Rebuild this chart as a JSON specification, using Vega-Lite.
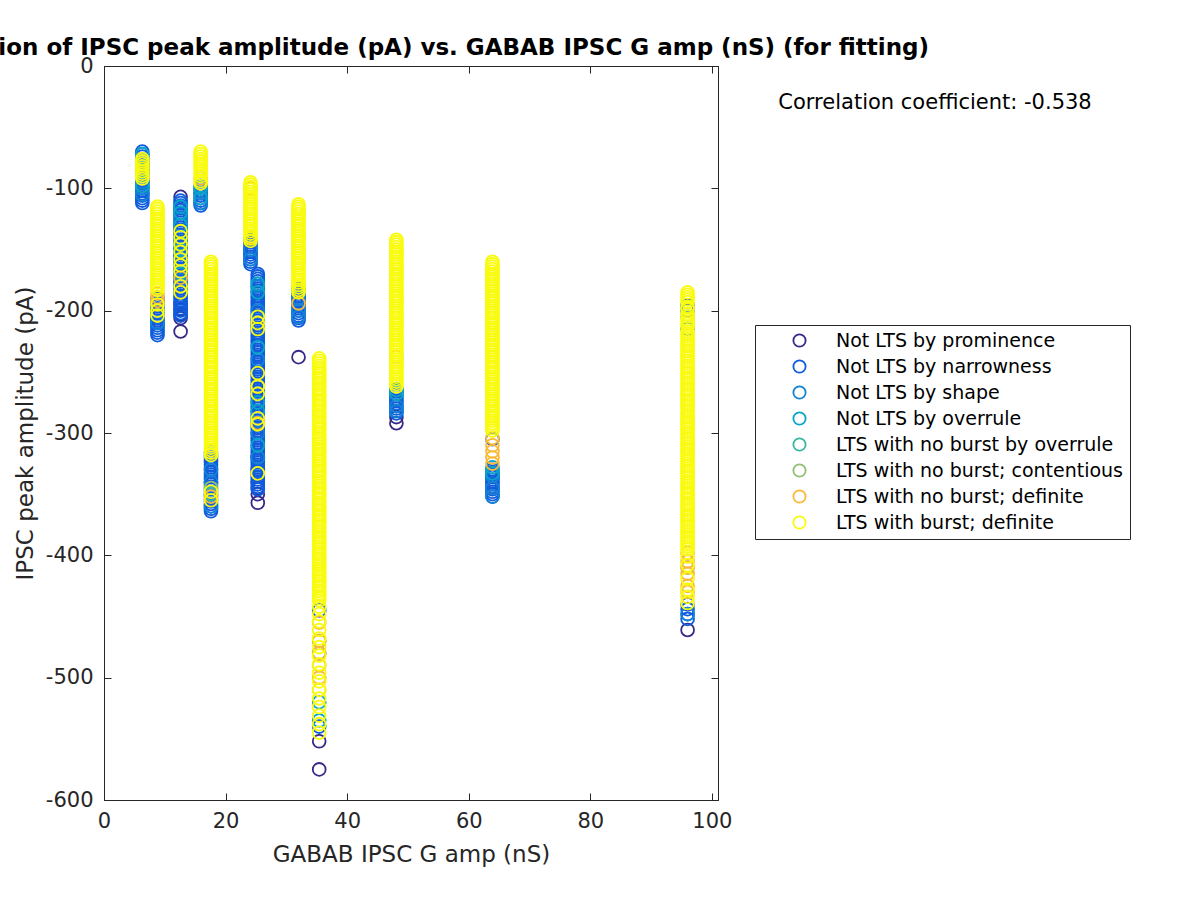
{
  "$schema": "https://vega.github.io/schema/vega-lite/v6.json",
  "width": 614,
  "height": 734,
  "autosize": {"type": "none"},
  "padding": {"left": 104, "top": 66, "right": 482, "bottom": 100},
  "background": "white",
  "title": {"text": "Correlation of IPSC peak amplitude (pA) vs. GABAB IPSC G amp (nS) (for fitting)", "font": "DejaVu Sans", "fontSize": 23, "fontWeight": "bold", "color": "black", "anchor": "middle", "offset": 9, "dy": 14},
  "config": {
    "view": {"stroke": "#262626", "strokeWidth": 1},
    "axis": {"labelFont": "DejaVu Sans", "titleFont": "DejaVu Sans", "labelColor": "#262626", "titleColor": "#262626", "domainColor": "#262626", "tickColor": "#262626", "labelFontSize": 21, "titleFontSize": 23, "titleFontWeight": "normal", "grid": false, "labelFlush": false}
  },
  "datasets": {
    "types": [
      {"k": 1, "name": "Not LTS by prominence"},
      {"k": 2, "name": "Not LTS by narrowness"},
      {"k": 3, "name": "Not LTS by shape"},
      {"k": 4, "name": "Not LTS by overrule"},
      {"k": 5, "name": "LTS with no burst by overrule"},
      {"k": 6, "name": "LTS with no burst; contentious"},
      {"k": 7, "name": "LTS with no burst; definite"},
      {"k": 8, "name": "LTS with burst; definite"}
    ],
    "pts": [
{"x":12.6,"y":-107,"k":1},{"x":12.6,"y":-195,"k":1},{"x":12.6,"y":-199,"k":1},{"x":12.6,"y":-203,"k":1},{"x":12.6,"y":-206,"k":1},{"x":12.6,"y":-217,"k":1},
{"x":25.3,"y":-320,"k":1},{"x":25.3,"y":-330,"k":1},{"x":25.3,"y":-340,"k":1},{"x":25.3,"y":-345,"k":1},{"x":25.3,"y":-350,"k":1},{"x":25.3,"y":-357,"k":1},
{"x":32.0,"y":-238,"k":1},{"x":35.4,"y":-552,"k":1},{"x":35.4,"y":-575,"k":1},{"x":48.1,"y":-287,"k":1},{"x":48.1,"y":-292,"k":1},{"x":96.0,"y":-461,"k":1},

{"x":6.3,"y":-70,"k":2},{"x":6.3,"y":-72,"k":2},{"x":6.3,"y":-74,"k":2},{"x":6.3,"y":-76,"k":2},{"x":6.3,"y":-78,"k":2},{"x":6.3,"y":-80,"k":2},{"x":6.3,"y":-82,"k":2},{"x":6.3,"y":-84,"k":2},{"x":6.3,"y":-86,"k":2},{"x":6.3,"y":-88,"k":2},{"x":6.3,"y":-90,"k":2},{"x":6.3,"y":-92,"k":2},{"x":6.3,"y":-94,"k":2},{"x":6.3,"y":-96,"k":2},{"x":6.3,"y":-98,"k":2},{"x":6.3,"y":-100,"k":2},{"x":6.3,"y":-102,"k":2},{"x":6.3,"y":-104,"k":2},{"x":6.3,"y":-106,"k":2},{"x":6.3,"y":-108,"k":2},{"x":6.3,"y":-110,"k":2},{"x":6.3,"y":-112,"k":2},
{"x":8.8,"y":-190,"k":2},{"x":8.8,"y":-192,"k":2},{"x":8.8,"y":-194,"k":2},{"x":8.8,"y":-196,"k":2},{"x":8.8,"y":-198,"k":2},{"x":8.8,"y":-200,"k":2},{"x":8.8,"y":-202,"k":2},{"x":8.8,"y":-204,"k":2},{"x":8.8,"y":-206,"k":2},{"x":8.8,"y":-208,"k":2},{"x":8.8,"y":-210,"k":2},{"x":8.8,"y":-212,"k":2},{"x":8.8,"y":-214,"k":2},{"x":8.8,"y":-216,"k":2},{"x":8.8,"y":-218,"k":2},{"x":8.8,"y":-220,"k":2},
{"x":12.6,"y":-110,"k":2},{"x":12.6,"y":-112,"k":2},{"x":12.6,"y":-114,"k":2},{"x":12.6,"y":-116,"k":2},{"x":12.6,"y":-118,"k":2},{"x":12.6,"y":-120,"k":2},{"x":12.6,"y":-122,"k":2},{"x":12.6,"y":-124,"k":2},{"x":12.6,"y":-126,"k":2},{"x":12.6,"y":-128,"k":2},{"x":12.6,"y":-130,"k":2},{"x":12.6,"y":-132,"k":2},{"x":12.6,"y":-134,"k":2},{"x":12.6,"y":-136,"k":2},{"x":12.6,"y":-138,"k":2},{"x":12.6,"y":-140,"k":2},{"x":12.6,"y":-142,"k":2},{"x":12.6,"y":-144,"k":2},{"x":12.6,"y":-146,"k":2},{"x":12.6,"y":-148,"k":2},{"x":12.6,"y":-150,"k":2},{"x":12.6,"y":-152,"k":2},{"x":12.6,"y":-154,"k":2},{"x":12.6,"y":-156,"k":2},{"x":12.6,"y":-158,"k":2},{"x":12.6,"y":-160,"k":2},{"x":12.6,"y":-162,"k":2},{"x":12.6,"y":-164,"k":2},{"x":12.6,"y":-166,"k":2},{"x":12.6,"y":-168,"k":2},{"x":12.6,"y":-170,"k":2},{"x":12.6,"y":-172,"k":2},{"x":12.6,"y":-174,"k":2},{"x":12.6,"y":-176,"k":2},{"x":12.6,"y":-178,"k":2},{"x":12.6,"y":-180,"k":2},{"x":12.6,"y":-182,"k":2},{"x":12.6,"y":-184,"k":2},{"x":12.6,"y":-186,"k":2},{"x":12.6,"y":-188,"k":2},{"x":12.6,"y":-190,"k":2},{"x":12.6,"y":-192,"k":2},{"x":12.6,"y":-194,"k":2},{"x":12.6,"y":-196,"k":2},{"x":12.6,"y":-198,"k":2},{"x":12.6,"y":-200,"k":2},{"x":12.6,"y":-202,"k":2},{"x":12.6,"y":-204,"k":2},
{"x":15.9,"y":-100,"k":2},{"x":15.9,"y":-102,"k":2},{"x":15.9,"y":-104,"k":2},{"x":15.9,"y":-106,"k":2},{"x":15.9,"y":-108,"k":2},{"x":15.9,"y":-110,"k":2},{"x":15.9,"y":-112,"k":2},{"x":15.9,"y":-114,"k":2},
{"x":17.6,"y":-316,"k":2},{"x":17.6,"y":-318,"k":2},{"x":17.6,"y":-320,"k":2},{"x":17.6,"y":-322,"k":2},{"x":17.6,"y":-324,"k":2},{"x":17.6,"y":-326,"k":2},{"x":17.6,"y":-328,"k":2},{"x":17.6,"y":-330,"k":2},{"x":17.6,"y":-332,"k":2},{"x":17.6,"y":-334,"k":2},{"x":17.6,"y":-336,"k":2},{"x":17.6,"y":-338,"k":2},{"x":17.6,"y":-340,"k":2},{"x":17.6,"y":-342,"k":2},{"x":17.6,"y":-344,"k":2},{"x":17.6,"y":-346,"k":2},{"x":17.6,"y":-348,"k":2},{"x":17.6,"y":-350,"k":2},{"x":17.6,"y":-352,"k":2},{"x":17.6,"y":-354,"k":2},{"x":17.6,"y":-356,"k":2},{"x":17.6,"y":-358,"k":2},{"x":17.6,"y":-360,"k":2},{"x":17.6,"y":-362,"k":2},{"x":17.6,"y":-364,"k":2},
{"x":24.1,"y":-142,"k":2},{"x":24.1,"y":-144,"k":2},{"x":24.1,"y":-146,"k":2},{"x":24.1,"y":-148,"k":2},{"x":24.1,"y":-150,"k":2},{"x":24.1,"y":-152,"k":2},{"x":24.1,"y":-154,"k":2},{"x":24.1,"y":-156,"k":2},{"x":24.1,"y":-158,"k":2},{"x":24.1,"y":-160,"k":2},{"x":24.1,"y":-162,"k":2},
{"x":25.3,"y":-170,"k":2},{"x":25.3,"y":-172,"k":2},{"x":25.3,"y":-174,"k":2},{"x":25.3,"y":-176,"k":2},{"x":25.3,"y":-178,"k":2},{"x":25.3,"y":-180,"k":2},{"x":25.3,"y":-182,"k":2},{"x":25.3,"y":-184,"k":2},{"x":25.3,"y":-186,"k":2},{"x":25.3,"y":-188,"k":2},{"x":25.3,"y":-190,"k":2},{"x":25.3,"y":-192,"k":2},{"x":25.3,"y":-194,"k":2},{"x":25.3,"y":-196,"k":2},{"x":25.3,"y":-198,"k":2},{"x":25.3,"y":-200,"k":2},{"x":25.3,"y":-202,"k":2},{"x":25.3,"y":-204,"k":2},{"x":25.3,"y":-206,"k":2},{"x":25.3,"y":-208,"k":2},{"x":25.3,"y":-210,"k":2},{"x":25.3,"y":-212,"k":2},{"x":25.3,"y":-214,"k":2},{"x":25.3,"y":-216,"k":2},{"x":25.3,"y":-218,"k":2},{"x":25.3,"y":-220,"k":2},{"x":25.3,"y":-222,"k":2},{"x":25.3,"y":-224,"k":2},{"x":25.3,"y":-226,"k":2},{"x":25.3,"y":-228,"k":2},{"x":25.3,"y":-230,"k":2},{"x":25.3,"y":-232,"k":2},{"x":25.3,"y":-234,"k":2},{"x":25.3,"y":-236,"k":2},{"x":25.3,"y":-238,"k":2},{"x":25.3,"y":-240,"k":2},{"x":25.3,"y":-242,"k":2},{"x":25.3,"y":-244,"k":2},{"x":25.3,"y":-246,"k":2},{"x":25.3,"y":-248,"k":2},{"x":25.3,"y":-250,"k":2},{"x":25.3,"y":-252,"k":2},{"x":25.3,"y":-254,"k":2},{"x":25.3,"y":-256,"k":2},{"x":25.3,"y":-258,"k":2},{"x":25.3,"y":-260,"k":2},{"x":25.3,"y":-262,"k":2},{"x":25.3,"y":-264,"k":2},{"x":25.3,"y":-266,"k":2},{"x":25.3,"y":-268,"k":2},{"x":25.3,"y":-270,"k":2},{"x":25.3,"y":-272,"k":2},{"x":25.3,"y":-274,"k":2},{"x":25.3,"y":-276,"k":2},{"x":25.3,"y":-278,"k":2},{"x":25.3,"y":-280,"k":2},{"x":25.3,"y":-282,"k":2},{"x":25.3,"y":-284,"k":2},{"x":25.3,"y":-286,"k":2},{"x":25.3,"y":-288,"k":2},{"x":25.3,"y":-290,"k":2},{"x":25.3,"y":-292,"k":2},{"x":25.3,"y":-294,"k":2},{"x":25.3,"y":-296,"k":2},{"x":25.3,"y":-298,"k":2},{"x":25.3,"y":-300,"k":2},{"x":25.3,"y":-302,"k":2},{"x":25.3,"y":-304,"k":2},{"x":25.3,"y":-306,"k":2},{"x":25.3,"y":-308,"k":2},{"x":25.3,"y":-310,"k":2},{"x":25.3,"y":-312,"k":2},{"x":25.3,"y":-314,"k":2},{"x":25.3,"y":-316,"k":2},{"x":25.3,"y":-318,"k":2},{"x":25.3,"y":-320,"k":2},{"x":25.3,"y":-322,"k":2},{"x":25.3,"y":-324,"k":2},{"x":25.3,"y":-326,"k":2},{"x":25.3,"y":-328,"k":2},{"x":25.3,"y":-330,"k":2},{"x":25.3,"y":-332,"k":2},{"x":25.3,"y":-334,"k":2},{"x":25.3,"y":-336,"k":2},{"x":25.3,"y":-338,"k":2},{"x":25.3,"y":-340,"k":2},{"x":25.3,"y":-342,"k":2},{"x":25.3,"y":-344,"k":2},{"x":25.3,"y":-346,"k":2},
{"x":32.0,"y":-182,"k":2},{"x":32.0,"y":-184,"k":2},{"x":32.0,"y":-186,"k":2},{"x":32.0,"y":-188,"k":2},{"x":32.0,"y":-190,"k":2},{"x":32.0,"y":-192,"k":2},{"x":32.0,"y":-194,"k":2},{"x":32.0,"y":-196,"k":2},{"x":32.0,"y":-198,"k":2},{"x":32.0,"y":-200,"k":2},{"x":32.0,"y":-202,"k":2},{"x":32.0,"y":-204,"k":2},{"x":32.0,"y":-206,"k":2},{"x":32.0,"y":-208,"k":2},
{"x":35.4,"y":-445,"k":2},{"x":35.4,"y":-480,"k":2},{"x":35.4,"y":-540,"k":2},
{"x":48.1,"y":-264,"k":2},{"x":48.1,"y":-266,"k":2},{"x":48.1,"y":-268,"k":2},{"x":48.1,"y":-270,"k":2},{"x":48.1,"y":-272,"k":2},{"x":48.1,"y":-274,"k":2},{"x":48.1,"y":-276,"k":2},{"x":48.1,"y":-278,"k":2},{"x":48.1,"y":-280,"k":2},{"x":48.1,"y":-282,"k":2},{"x":48.1,"y":-284,"k":2},
{"x":63.9,"y":-305,"k":2},{"x":63.9,"y":-330,"k":2},{"x":63.9,"y":-332,"k":2},{"x":63.9,"y":-334,"k":2},{"x":63.9,"y":-336,"k":2},{"x":63.9,"y":-338,"k":2},{"x":63.9,"y":-340,"k":2},{"x":63.9,"y":-342,"k":2},{"x":63.9,"y":-344,"k":2},{"x":63.9,"y":-346,"k":2},{"x":63.9,"y":-348,"k":2},{"x":63.9,"y":-350,"k":2},{"x":63.9,"y":-352,"k":2},
{"x":96.0,"y":-196,"k":2},{"x":96.0,"y":-200,"k":2},{"x":96.0,"y":-440,"k":2},{"x":96.0,"y":-444,"k":2},{"x":96.0,"y":-448,"k":2},{"x":96.0,"y":-452,"k":2},

{"x":6.3,"y":-95,"k":3},{"x":6.3,"y":-100,"k":3},{"x":6.3,"y":-105,"k":3},
{"x":8.8,"y":-200,"k":3},{"x":8.8,"y":-210,"k":3},
{"x":12.6,"y":-125,"k":3},{"x":12.6,"y":-140,"k":3},{"x":12.6,"y":-160,"k":3},{"x":12.6,"y":-175,"k":3},
{"x":15.9,"y":-98,"k":3},{"x":15.9,"y":-104,"k":3},{"x":15.9,"y":-112,"k":3},
{"x":17.6,"y":-330,"k":3},{"x":17.6,"y":-340,"k":3},{"x":17.6,"y":-360,"k":3},
{"x":24.1,"y":-150,"k":3},{"x":24.1,"y":-158,"k":3},
{"x":25.3,"y":-180,"k":3},{"x":25.3,"y":-200,"k":3},{"x":25.3,"y":-240,"k":3},{"x":25.3,"y":-300,"k":3},{"x":25.3,"y":-320,"k":3},
{"x":32.0,"y":-190,"k":3},{"x":32.0,"y":-200,"k":3},{"x":32.0,"y":-205,"k":3},
{"x":48.1,"y":-278,"k":3},{"x":48.1,"y":-282,"k":3},
{"x":63.9,"y":-335,"k":3},{"x":63.9,"y":-345,"k":3},{"x":63.9,"y":-352,"k":3},
{"x":96.0,"y":-215,"k":3},{"x":96.0,"y":-448,"k":3},

{"x":6.3,"y":-72,"k":4},{"x":6.3,"y":-85,"k":4},{"x":6.3,"y":-98,"k":4},
{"x":12.6,"y":-115,"k":4},{"x":12.6,"y":-120,"k":4},{"x":12.6,"y":-130,"k":4},{"x":12.6,"y":-150,"k":4},{"x":12.6,"y":-170,"k":4},
{"x":15.9,"y":-100,"k":4},{"x":15.9,"y":-108,"k":4},
{"x":25.3,"y":-178,"k":4},{"x":25.3,"y":-185,"k":4},{"x":25.3,"y":-230,"k":4},{"x":25.3,"y":-275,"k":4},{"x":25.3,"y":-282,"k":4},{"x":25.3,"y":-310,"k":4},
{"x":35.4,"y":-520,"k":4},{"x":35.4,"y":-535,"k":4},
{"x":48.1,"y":-265,"k":4},{"x":48.1,"y":-268,"k":4},
{"x":63.9,"y":-328,"k":4},{"x":63.9,"y":-333,"k":4},
{"x":96.0,"y":-205,"k":4},

{"x":17.6,"y":-350,"k":5},{"x":12.6,"y":-145,"k":5},

{"x":17.6,"y":-345,"k":6},{"x":35.4,"y":-470,"k":6},{"x":96.0,"y":-410,"k":6},

{"x":8.8,"y":-186,"k":7},{"x":8.8,"y":-189,"k":7},{"x":8.8,"y":-192,"k":7},
{"x":12.6,"y":-173,"k":7},{"x":15.9,"y":-92,"k":7},{"x":17.6,"y":-352,"k":7},
{"x":24.1,"y":-100,"k":7},{"x":24.1,"y":-140,"k":7},
{"x":25.3,"y":-262,"k":7},{"x":25.3,"y":-292,"k":7},
{"x":32.0,"y":-194,"k":7},
{"x":35.4,"y":-455,"k":7},{"x":35.4,"y":-470,"k":7},{"x":35.4,"y":-480,"k":7},{"x":35.4,"y":-490,"k":7},{"x":35.4,"y":-500,"k":7},{"x":35.4,"y":-510,"k":7},
{"x":48.1,"y":-238,"k":7},
{"x":63.9,"y":-304,"k":7},{"x":63.9,"y":-310,"k":7},{"x":63.9,"y":-315,"k":7},{"x":63.9,"y":-320,"k":7},{"x":63.9,"y":-325,"k":7},
{"x":96.0,"y":-398,"k":7},{"x":96.0,"y":-405,"k":7},{"x":96.0,"y":-410,"k":7},{"x":96.0,"y":-415,"k":7},{"x":96.0,"y":-425,"k":7},{"x":96.0,"y":-430,"k":7},

{"x":6.3,"y":-76,"k":8},{"x":6.3,"y":-78,"k":8},{"x":6.3,"y":-80,"k":8},{"x":6.3,"y":-82,"k":8},{"x":6.3,"y":-84,"k":8},{"x":6.3,"y":-86,"k":8},{"x":6.3,"y":-88,"k":8},{"x":6.3,"y":-90,"k":8},{"x":6.3,"y":-92,"k":8},
{"x":8.8,"y":-115,"k":8},{"x":8.8,"y":-117,"k":8},{"x":8.8,"y":-119,"k":8},{"x":8.8,"y":-121,"k":8},{"x":8.8,"y":-123,"k":8},{"x":8.8,"y":-125,"k":8},{"x":8.8,"y":-127,"k":8},{"x":8.8,"y":-129,"k":8},{"x":8.8,"y":-131,"k":8},{"x":8.8,"y":-133,"k":8},{"x":8.8,"y":-135,"k":8},{"x":8.8,"y":-137,"k":8},{"x":8.8,"y":-139,"k":8},{"x":8.8,"y":-141,"k":8},{"x":8.8,"y":-143,"k":8},{"x":8.8,"y":-145,"k":8},{"x":8.8,"y":-147,"k":8},{"x":8.8,"y":-149,"k":8},{"x":8.8,"y":-151,"k":8},{"x":8.8,"y":-153,"k":8},{"x":8.8,"y":-155,"k":8},{"x":8.8,"y":-157,"k":8},{"x":8.8,"y":-159,"k":8},{"x":8.8,"y":-161,"k":8},{"x":8.8,"y":-163,"k":8},{"x":8.8,"y":-165,"k":8},{"x":8.8,"y":-167,"k":8},{"x":8.8,"y":-169,"k":8},{"x":8.8,"y":-171,"k":8},{"x":8.8,"y":-173,"k":8},{"x":8.8,"y":-175,"k":8},{"x":8.8,"y":-177,"k":8},{"x":8.8,"y":-179,"k":8},{"x":8.8,"y":-181,"k":8},{"x":8.8,"y":-183,"k":8},{"x":8.8,"y":-195,"k":8},{"x":8.8,"y":-200,"k":8},{"x":8.8,"y":-204,"k":8},
{"x":12.6,"y":-135,"k":8},{"x":12.6,"y":-140,"k":8},{"x":12.6,"y":-146,"k":8},{"x":12.6,"y":-152,"k":8},{"x":12.6,"y":-158,"k":8},{"x":12.6,"y":-163,"k":8},{"x":12.6,"y":-168,"k":8},{"x":12.6,"y":-180,"k":8},{"x":12.6,"y":-185,"k":8},
{"x":15.9,"y":-70,"k":8},{"x":15.9,"y":-72,"k":8},{"x":15.9,"y":-74,"k":8},{"x":15.9,"y":-76,"k":8},{"x":15.9,"y":-78,"k":8},{"x":15.9,"y":-80,"k":8},{"x":15.9,"y":-82,"k":8},{"x":15.9,"y":-84,"k":8},{"x":15.9,"y":-86,"k":8},{"x":15.9,"y":-88,"k":8},{"x":15.9,"y":-90,"k":8},{"x":15.9,"y":-94,"k":8},{"x":15.9,"y":-96,"k":8},
{"x":17.6,"y":-160,"k":8},{"x":17.6,"y":-162,"k":8},{"x":17.6,"y":-164,"k":8},{"x":17.6,"y":-166,"k":8},{"x":17.6,"y":-168,"k":8},{"x":17.6,"y":-170,"k":8},{"x":17.6,"y":-172,"k":8},{"x":17.6,"y":-174,"k":8},{"x":17.6,"y":-176,"k":8},{"x":17.6,"y":-178,"k":8},{"x":17.6,"y":-180,"k":8},{"x":17.6,"y":-182,"k":8},{"x":17.6,"y":-184,"k":8},{"x":17.6,"y":-186,"k":8},{"x":17.6,"y":-188,"k":8},{"x":17.6,"y":-190,"k":8},{"x":17.6,"y":-192,"k":8},{"x":17.6,"y":-194,"k":8},{"x":17.6,"y":-196,"k":8},{"x":17.6,"y":-198,"k":8},{"x":17.6,"y":-200,"k":8},{"x":17.6,"y":-202,"k":8},{"x":17.6,"y":-204,"k":8},{"x":17.6,"y":-206,"k":8},{"x":17.6,"y":-208,"k":8},{"x":17.6,"y":-210,"k":8},{"x":17.6,"y":-212,"k":8},{"x":17.6,"y":-214,"k":8},{"x":17.6,"y":-216,"k":8},{"x":17.6,"y":-218,"k":8},{"x":17.6,"y":-220,"k":8},{"x":17.6,"y":-222,"k":8},{"x":17.6,"y":-224,"k":8},{"x":17.6,"y":-226,"k":8},{"x":17.6,"y":-228,"k":8},{"x":17.6,"y":-230,"k":8},{"x":17.6,"y":-232,"k":8},{"x":17.6,"y":-234,"k":8},{"x":17.6,"y":-236,"k":8},{"x":17.6,"y":-238,"k":8},{"x":17.6,"y":-240,"k":8},{"x":17.6,"y":-242,"k":8},{"x":17.6,"y":-244,"k":8},{"x":17.6,"y":-246,"k":8},{"x":17.6,"y":-248,"k":8},{"x":17.6,"y":-250,"k":8},{"x":17.6,"y":-252,"k":8},{"x":17.6,"y":-254,"k":8},{"x":17.6,"y":-256,"k":8},{"x":17.6,"y":-258,"k":8},{"x":17.6,"y":-260,"k":8},{"x":17.6,"y":-262,"k":8},{"x":17.6,"y":-264,"k":8},{"x":17.6,"y":-266,"k":8},{"x":17.6,"y":-268,"k":8},{"x":17.6,"y":-270,"k":8},{"x":17.6,"y":-272,"k":8},{"x":17.6,"y":-274,"k":8},{"x":17.6,"y":-276,"k":8},{"x":17.6,"y":-278,"k":8},{"x":17.6,"y":-280,"k":8},{"x":17.6,"y":-282,"k":8},{"x":17.6,"y":-284,"k":8},{"x":17.6,"y":-286,"k":8},{"x":17.6,"y":-288,"k":8},{"x":17.6,"y":-290,"k":8},{"x":17.6,"y":-292,"k":8},{"x":17.6,"y":-294,"k":8},{"x":17.6,"y":-296,"k":8},{"x":17.6,"y":-298,"k":8},{"x":17.6,"y":-300,"k":8},{"x":17.6,"y":-302,"k":8},{"x":17.6,"y":-304,"k":8},{"x":17.6,"y":-306,"k":8},{"x":17.6,"y":-308,"k":8},{"x":17.6,"y":-310,"k":8},{"x":17.6,"y":-312,"k":8},{"x":17.6,"y":-314,"k":8},{"x":17.6,"y":-316,"k":8},{"x":17.6,"y":-318,"k":8},{"x":17.6,"y":-348,"k":8},{"x":17.6,"y":-355,"k":8},
{"x":24.1,"y":-95,"k":8},{"x":24.1,"y":-97,"k":8},{"x":24.1,"y":-99,"k":8},{"x":24.1,"y":-101,"k":8},{"x":24.1,"y":-103,"k":8},{"x":24.1,"y":-105,"k":8},{"x":24.1,"y":-107,"k":8},{"x":24.1,"y":-109,"k":8},{"x":24.1,"y":-111,"k":8},{"x":24.1,"y":-113,"k":8},{"x":24.1,"y":-115,"k":8},{"x":24.1,"y":-117,"k":8},{"x":24.1,"y":-119,"k":8},{"x":24.1,"y":-121,"k":8},{"x":24.1,"y":-123,"k":8},{"x":24.1,"y":-125,"k":8},{"x":24.1,"y":-127,"k":8},{"x":24.1,"y":-129,"k":8},{"x":24.1,"y":-131,"k":8},{"x":24.1,"y":-133,"k":8},{"x":24.1,"y":-135,"k":8},{"x":24.1,"y":-137,"k":8},{"x":24.1,"y":-139,"k":8},{"x":24.1,"y":-141,"k":8},{"x":24.1,"y":-143,"k":8},
{"x":25.3,"y":-205,"k":8},{"x":25.3,"y":-210,"k":8},{"x":25.3,"y":-215,"k":8},{"x":25.3,"y":-251,"k":8},{"x":25.3,"y":-262,"k":8},{"x":25.3,"y":-268,"k":8},{"x":25.3,"y":-288,"k":8},{"x":25.3,"y":-293,"k":8},{"x":25.3,"y":-333,"k":8},
{"x":32.0,"y":-113,"k":8},{"x":32.0,"y":-115,"k":8},{"x":32.0,"y":-117,"k":8},{"x":32.0,"y":-119,"k":8},{"x":32.0,"y":-121,"k":8},{"x":32.0,"y":-123,"k":8},{"x":32.0,"y":-125,"k":8},{"x":32.0,"y":-127,"k":8},{"x":32.0,"y":-129,"k":8},{"x":32.0,"y":-131,"k":8},{"x":32.0,"y":-133,"k":8},{"x":32.0,"y":-135,"k":8},{"x":32.0,"y":-137,"k":8},{"x":32.0,"y":-139,"k":8},{"x":32.0,"y":-141,"k":8},{"x":32.0,"y":-143,"k":8},{"x":32.0,"y":-145,"k":8},{"x":32.0,"y":-147,"k":8},{"x":32.0,"y":-149,"k":8},{"x":32.0,"y":-151,"k":8},{"x":32.0,"y":-153,"k":8},{"x":32.0,"y":-155,"k":8},{"x":32.0,"y":-157,"k":8},{"x":32.0,"y":-159,"k":8},{"x":32.0,"y":-161,"k":8},{"x":32.0,"y":-163,"k":8},{"x":32.0,"y":-165,"k":8},{"x":32.0,"y":-167,"k":8},{"x":32.0,"y":-169,"k":8},{"x":32.0,"y":-171,"k":8},{"x":32.0,"y":-173,"k":8},{"x":32.0,"y":-175,"k":8},{"x":32.0,"y":-177,"k":8},{"x":32.0,"y":-179,"k":8},{"x":32.0,"y":-181,"k":8},{"x":32.0,"y":-183,"k":8},{"x":32.0,"y":-185,"k":8},
{"x":35.4,"y":-239,"k":8},{"x":35.4,"y":-241,"k":8},{"x":35.4,"y":-243,"k":8},{"x":35.4,"y":-245,"k":8},{"x":35.4,"y":-247,"k":8},{"x":35.4,"y":-249,"k":8},{"x":35.4,"y":-251,"k":8},{"x":35.4,"y":-253,"k":8},{"x":35.4,"y":-255,"k":8},{"x":35.4,"y":-257,"k":8},{"x":35.4,"y":-259,"k":8},{"x":35.4,"y":-261,"k":8},{"x":35.4,"y":-263,"k":8},{"x":35.4,"y":-265,"k":8},{"x":35.4,"y":-267,"k":8},{"x":35.4,"y":-269,"k":8},{"x":35.4,"y":-271,"k":8},{"x":35.4,"y":-273,"k":8},{"x":35.4,"y":-275,"k":8},{"x":35.4,"y":-277,"k":8},{"x":35.4,"y":-279,"k":8},{"x":35.4,"y":-281,"k":8},{"x":35.4,"y":-283,"k":8},{"x":35.4,"y":-285,"k":8},{"x":35.4,"y":-287,"k":8},{"x":35.4,"y":-289,"k":8},{"x":35.4,"y":-291,"k":8},{"x":35.4,"y":-293,"k":8},{"x":35.4,"y":-295,"k":8},{"x":35.4,"y":-297,"k":8},{"x":35.4,"y":-299,"k":8},{"x":35.4,"y":-301,"k":8},{"x":35.4,"y":-303,"k":8},{"x":35.4,"y":-305,"k":8},{"x":35.4,"y":-307,"k":8},{"x":35.4,"y":-309,"k":8},{"x":35.4,"y":-311,"k":8},{"x":35.4,"y":-313,"k":8},{"x":35.4,"y":-315,"k":8},{"x":35.4,"y":-317,"k":8},{"x":35.4,"y":-319,"k":8},{"x":35.4,"y":-321,"k":8},{"x":35.4,"y":-323,"k":8},{"x":35.4,"y":-325,"k":8},{"x":35.4,"y":-327,"k":8},{"x":35.4,"y":-329,"k":8},{"x":35.4,"y":-331,"k":8},{"x":35.4,"y":-333,"k":8},{"x":35.4,"y":-335,"k":8},{"x":35.4,"y":-337,"k":8},{"x":35.4,"y":-339,"k":8},{"x":35.4,"y":-341,"k":8},{"x":35.4,"y":-343,"k":8},{"x":35.4,"y":-345,"k":8},{"x":35.4,"y":-347,"k":8},{"x":35.4,"y":-349,"k":8},{"x":35.4,"y":-351,"k":8},{"x":35.4,"y":-353,"k":8},{"x":35.4,"y":-355,"k":8},{"x":35.4,"y":-357,"k":8},{"x":35.4,"y":-359,"k":8},{"x":35.4,"y":-361,"k":8},{"x":35.4,"y":-363,"k":8},{"x":35.4,"y":-365,"k":8},{"x":35.4,"y":-367,"k":8},{"x":35.4,"y":-369,"k":8},{"x":35.4,"y":-371,"k":8},{"x":35.4,"y":-373,"k":8},{"x":35.4,"y":-375,"k":8},{"x":35.4,"y":-377,"k":8},{"x":35.4,"y":-379,"k":8},{"x":35.4,"y":-381,"k":8},{"x":35.4,"y":-383,"k":8},{"x":35.4,"y":-385,"k":8},{"x":35.4,"y":-387,"k":8},{"x":35.4,"y":-389,"k":8},{"x":35.4,"y":-391,"k":8},{"x":35.4,"y":-393,"k":8},{"x":35.4,"y":-395,"k":8},{"x":35.4,"y":-397,"k":8},{"x":35.4,"y":-399,"k":8},{"x":35.4,"y":-401,"k":8},{"x":35.4,"y":-403,"k":8},{"x":35.4,"y":-405,"k":8},{"x":35.4,"y":-407,"k":8},{"x":35.4,"y":-409,"k":8},{"x":35.4,"y":-411,"k":8},{"x":35.4,"y":-413,"k":8},{"x":35.4,"y":-415,"k":8},{"x":35.4,"y":-417,"k":8},{"x":35.4,"y":-419,"k":8},{"x":35.4,"y":-421,"k":8},{"x":35.4,"y":-423,"k":8},{"x":35.4,"y":-425,"k":8},{"x":35.4,"y":-427,"k":8},{"x":35.4,"y":-429,"k":8},{"x":35.4,"y":-431,"k":8},{"x":35.4,"y":-433,"k":8},{"x":35.4,"y":-435,"k":8},{"x":35.4,"y":-437,"k":8},
{"x":35.4,"y":-442,"k":8},{"x":35.4,"y":-448,"k":8},{"x":35.4,"y":-454,"k":8},{"x":35.4,"y":-461,"k":8},{"x":35.4,"y":-468,"k":8},{"x":35.4,"y":-475,"k":8},{"x":35.4,"y":-482,"k":8},{"x":35.4,"y":-489,"k":8},{"x":35.4,"y":-496,"k":8},{"x":35.4,"y":-503,"k":8},{"x":35.4,"y":-510,"k":8},{"x":35.4,"y":-517,"k":8},{"x":35.4,"y":-524,"k":8},{"x":35.4,"y":-531,"k":8},{"x":35.4,"y":-538,"k":8},{"x":35.4,"y":-545,"k":8},
{"x":48.1,"y":-142,"k":8},{"x":48.1,"y":-144,"k":8},{"x":48.1,"y":-146,"k":8},{"x":48.1,"y":-148,"k":8},{"x":48.1,"y":-150,"k":8},{"x":48.1,"y":-152,"k":8},{"x":48.1,"y":-154,"k":8},{"x":48.1,"y":-156,"k":8},{"x":48.1,"y":-158,"k":8},{"x":48.1,"y":-160,"k":8},{"x":48.1,"y":-162,"k":8},{"x":48.1,"y":-164,"k":8},{"x":48.1,"y":-166,"k":8},{"x":48.1,"y":-168,"k":8},{"x":48.1,"y":-170,"k":8},{"x":48.1,"y":-172,"k":8},{"x":48.1,"y":-174,"k":8},{"x":48.1,"y":-176,"k":8},{"x":48.1,"y":-178,"k":8},{"x":48.1,"y":-180,"k":8},{"x":48.1,"y":-182,"k":8},{"x":48.1,"y":-184,"k":8},{"x":48.1,"y":-186,"k":8},{"x":48.1,"y":-188,"k":8},{"x":48.1,"y":-190,"k":8},{"x":48.1,"y":-192,"k":8},{"x":48.1,"y":-194,"k":8},{"x":48.1,"y":-196,"k":8},{"x":48.1,"y":-198,"k":8},{"x":48.1,"y":-200,"k":8},{"x":48.1,"y":-202,"k":8},{"x":48.1,"y":-204,"k":8},{"x":48.1,"y":-206,"k":8},{"x":48.1,"y":-208,"k":8},{"x":48.1,"y":-210,"k":8},{"x":48.1,"y":-212,"k":8},{"x":48.1,"y":-214,"k":8},{"x":48.1,"y":-216,"k":8},{"x":48.1,"y":-218,"k":8},{"x":48.1,"y":-220,"k":8},{"x":48.1,"y":-222,"k":8},{"x":48.1,"y":-224,"k":8},{"x":48.1,"y":-226,"k":8},{"x":48.1,"y":-228,"k":8},{"x":48.1,"y":-230,"k":8},{"x":48.1,"y":-232,"k":8},{"x":48.1,"y":-234,"k":8},{"x":48.1,"y":-236,"k":8},{"x":48.1,"y":-240,"k":8},{"x":48.1,"y":-242,"k":8},{"x":48.1,"y":-244,"k":8},{"x":48.1,"y":-246,"k":8},{"x":48.1,"y":-248,"k":8},{"x":48.1,"y":-250,"k":8},{"x":48.1,"y":-252,"k":8},{"x":48.1,"y":-254,"k":8},{"x":48.1,"y":-256,"k":8},{"x":48.1,"y":-258,"k":8},{"x":48.1,"y":-260,"k":8},{"x":48.1,"y":-262,"k":8},
{"x":63.9,"y":-160,"k":8},{"x":63.9,"y":-162,"k":8},{"x":63.9,"y":-164,"k":8},{"x":63.9,"y":-166,"k":8},{"x":63.9,"y":-168,"k":8},{"x":63.9,"y":-170,"k":8},{"x":63.9,"y":-172,"k":8},{"x":63.9,"y":-174,"k":8},{"x":63.9,"y":-176,"k":8},{"x":63.9,"y":-178,"k":8},{"x":63.9,"y":-180,"k":8},{"x":63.9,"y":-182,"k":8},{"x":63.9,"y":-184,"k":8},{"x":63.9,"y":-186,"k":8},{"x":63.9,"y":-188,"k":8},{"x":63.9,"y":-190,"k":8},{"x":63.9,"y":-192,"k":8},{"x":63.9,"y":-194,"k":8},{"x":63.9,"y":-196,"k":8},{"x":63.9,"y":-198,"k":8},{"x":63.9,"y":-200,"k":8},{"x":63.9,"y":-202,"k":8},{"x":63.9,"y":-204,"k":8},{"x":63.9,"y":-206,"k":8},{"x":63.9,"y":-208,"k":8},{"x":63.9,"y":-210,"k":8},{"x":63.9,"y":-212,"k":8},{"x":63.9,"y":-214,"k":8},{"x":63.9,"y":-216,"k":8},{"x":63.9,"y":-218,"k":8},{"x":63.9,"y":-220,"k":8},{"x":63.9,"y":-222,"k":8},{"x":63.9,"y":-224,"k":8},{"x":63.9,"y":-226,"k":8},{"x":63.9,"y":-228,"k":8},{"x":63.9,"y":-230,"k":8},{"x":63.9,"y":-232,"k":8},{"x":63.9,"y":-234,"k":8},{"x":63.9,"y":-236,"k":8},{"x":63.9,"y":-238,"k":8},{"x":63.9,"y":-240,"k":8},{"x":63.9,"y":-242,"k":8},{"x":63.9,"y":-244,"k":8},{"x":63.9,"y":-246,"k":8},{"x":63.9,"y":-248,"k":8},{"x":63.9,"y":-250,"k":8},{"x":63.9,"y":-252,"k":8},{"x":63.9,"y":-254,"k":8},{"x":63.9,"y":-256,"k":8},{"x":63.9,"y":-258,"k":8},{"x":63.9,"y":-260,"k":8},{"x":63.9,"y":-262,"k":8},{"x":63.9,"y":-264,"k":8},{"x":63.9,"y":-266,"k":8},{"x":63.9,"y":-268,"k":8},{"x":63.9,"y":-270,"k":8},{"x":63.9,"y":-272,"k":8},{"x":63.9,"y":-274,"k":8},{"x":63.9,"y":-276,"k":8},{"x":63.9,"y":-278,"k":8},{"x":63.9,"y":-280,"k":8},{"x":63.9,"y":-282,"k":8},{"x":63.9,"y":-284,"k":8},{"x":63.9,"y":-286,"k":8},{"x":63.9,"y":-288,"k":8},{"x":63.9,"y":-290,"k":8},{"x":63.9,"y":-292,"k":8},{"x":63.9,"y":-294,"k":8},{"x":63.9,"y":-296,"k":8},{"x":63.9,"y":-298,"k":8},
{"x":96.0,"y":-185,"k":8},{"x":96.0,"y":-187,"k":8},{"x":96.0,"y":-189,"k":8},{"x":96.0,"y":-191,"k":8},{"x":96.0,"y":-193,"k":8},{"x":96.0,"y":-197,"k":8},{"x":96.0,"y":-199,"k":8},{"x":96.0,"y":-203,"k":8},{"x":96.0,"y":-205,"k":8},{"x":96.0,"y":-207,"k":8},{"x":96.0,"y":-209,"k":8},{"x":96.0,"y":-211,"k":8},{"x":96.0,"y":-213,"k":8},{"x":96.0,"y":-217,"k":8},{"x":96.0,"y":-219,"k":8},{"x":96.0,"y":-221,"k":8},{"x":96.0,"y":-223,"k":8},{"x":96.0,"y":-225,"k":8},{"x":96.0,"y":-227,"k":8},{"x":96.0,"y":-229,"k":8},{"x":96.0,"y":-231,"k":8},{"x":96.0,"y":-233,"k":8},{"x":96.0,"y":-235,"k":8},{"x":96.0,"y":-237,"k":8},{"x":96.0,"y":-239,"k":8},{"x":96.0,"y":-241,"k":8},{"x":96.0,"y":-243,"k":8},{"x":96.0,"y":-245,"k":8},{"x":96.0,"y":-247,"k":8},{"x":96.0,"y":-249,"k":8},{"x":96.0,"y":-251,"k":8},{"x":96.0,"y":-253,"k":8},{"x":96.0,"y":-255,"k":8},{"x":96.0,"y":-257,"k":8},{"x":96.0,"y":-259,"k":8},{"x":96.0,"y":-261,"k":8},{"x":96.0,"y":-263,"k":8},{"x":96.0,"y":-265,"k":8},{"x":96.0,"y":-267,"k":8},{"x":96.0,"y":-269,"k":8},{"x":96.0,"y":-271,"k":8},{"x":96.0,"y":-273,"k":8},{"x":96.0,"y":-275,"k":8},{"x":96.0,"y":-277,"k":8},{"x":96.0,"y":-279,"k":8},{"x":96.0,"y":-281,"k":8},{"x":96.0,"y":-283,"k":8},{"x":96.0,"y":-285,"k":8},{"x":96.0,"y":-287,"k":8},{"x":96.0,"y":-289,"k":8},{"x":96.0,"y":-291,"k":8},{"x":96.0,"y":-293,"k":8},{"x":96.0,"y":-295,"k":8},{"x":96.0,"y":-297,"k":8},{"x":96.0,"y":-299,"k":8},{"x":96.0,"y":-301,"k":8},{"x":96.0,"y":-303,"k":8},{"x":96.0,"y":-305,"k":8},{"x":96.0,"y":-307,"k":8},{"x":96.0,"y":-309,"k":8},{"x":96.0,"y":-311,"k":8},{"x":96.0,"y":-313,"k":8},{"x":96.0,"y":-315,"k":8},{"x":96.0,"y":-317,"k":8},{"x":96.0,"y":-319,"k":8},{"x":96.0,"y":-321,"k":8},{"x":96.0,"y":-323,"k":8},{"x":96.0,"y":-325,"k":8},{"x":96.0,"y":-327,"k":8},{"x":96.0,"y":-329,"k":8},{"x":96.0,"y":-331,"k":8},{"x":96.0,"y":-333,"k":8},{"x":96.0,"y":-335,"k":8},{"x":96.0,"y":-337,"k":8},{"x":96.0,"y":-339,"k":8},{"x":96.0,"y":-341,"k":8},{"x":96.0,"y":-343,"k":8},{"x":96.0,"y":-345,"k":8},{"x":96.0,"y":-347,"k":8},{"x":96.0,"y":-349,"k":8},{"x":96.0,"y":-351,"k":8},{"x":96.0,"y":-353,"k":8},{"x":96.0,"y":-355,"k":8},{"x":96.0,"y":-357,"k":8},{"x":96.0,"y":-359,"k":8},{"x":96.0,"y":-361,"k":8},{"x":96.0,"y":-363,"k":8},{"x":96.0,"y":-365,"k":8},{"x":96.0,"y":-367,"k":8},{"x":96.0,"y":-369,"k":8},{"x":96.0,"y":-371,"k":8},{"x":96.0,"y":-373,"k":8},{"x":96.0,"y":-375,"k":8},{"x":96.0,"y":-377,"k":8},{"x":96.0,"y":-379,"k":8},{"x":96.0,"y":-381,"k":8},{"x":96.0,"y":-383,"k":8},{"x":96.0,"y":-385,"k":8},{"x":96.0,"y":-387,"k":8},{"x":96.0,"y":-389,"k":8},{"x":96.0,"y":-391,"k":8},{"x":96.0,"y":-393,"k":8},{"x":96.0,"y":-395,"k":8},
{"x":96.0,"y":-401,"k":8},{"x":96.0,"y":-408,"k":8},{"x":96.0,"y":-419,"k":8},{"x":96.0,"y":-428,"k":8},{"x":96.0,"y":-434,"k":8},{"x":96.0,"y":-439,"k":8}
    ]
  },
  "resolve": {"axis": {"x": "independent", "y": "independent"}},
  "layer": [
    {
      "data": {"name": "pts"},
      "transform": [{"lookup": "k", "from": {"data": {"name": "types"}, "key": "k", "fields": ["name"]}}],
      "mark": {"type": "point", "shape": "circle", "filled": false, "size": 165, "strokeWidth": 1.8, "opacity": 1},
      "encoding": {
        "x": {"field": "x", "type": "quantitative", "scale": {"domain": [0, 101], "nice": false, "zero": false},
          "axis": {"orient": "bottom", "values": [0, 20, 40, 60, 80, 100], "tickSize": -7, "labelPadding": 17, "title": "GABAB IPSC G amp (nS)", "titlePadding": 12}},
        "y": {"field": "y", "type": "quantitative", "scale": {"domain": [-600, 0], "nice": false, "zero": false},
          "axis": {"orient": "left", "values": [-600, -500, -400, -300, -200, -100, 0], "tickSize": -7, "labelPadding": 18, "labelExpr": "'' + datum.value", "title": "IPSC peak amplitude (pA)", "titlePadding": 8}},
        "color": {"field": "name", "type": "nominal",
          "scale": {"domain": ["Not LTS by prominence", "Not LTS by narrowness", "Not LTS by shape", "Not LTS by overrule", "LTS with no burst by overrule", "LTS with no burst; contentious", "LTS with no burst; definite", "LTS with burst; definite"],
                    "range": ["#352A87", "#0F5CDD", "#1283D4", "#06A7C6", "#38B99E", "#92BF73", "#FBB937", "#F9FB0E"]},
          "legend": {"orient": "none", "legendX": 651, "legendY": 259, "title": null, "strokeColor": "#262626", "fillColor": "white", "padding": 6, "symbolType": "circle", "symbolSize": 150, "symbolStrokeWidth": 1.8, "symbolFillColor": "transparent", "symbolOffset": 29, "labelOffset": 27, "labelFont": "DejaVu Sans", "labelFontSize": 19, "labelColor": "black", "rowPadding": 5, "labelLimit": 500}}
      }
    },
    {
      "data": {"values": [{"label": "Correlation coefficient: -0.538"}]},
      "mark": {"type": "text", "font": "DejaVu Sans", "fontSize": 21, "color": "black", "align": "center", "baseline": "middle", "clip": false},
      "encoding": {
        "text": {"field": "label", "type": "nominal"},
        "x": {"datum": 136.7, "type": "quantitative", "axis": {"orient": "top", "values": [0, 20, 40, 60, 80, 100], "labels": false, "tickSize": -7, "title": null, "domain": false}},
        "y": {"datum": -30.2, "type": "quantitative", "axis": {"orient": "right", "values": [-600, -500, -400, -300, -200, -100, 0], "labels": false, "tickSize": -7, "title": null, "domain": false}}
      }
    }
  ]
}
